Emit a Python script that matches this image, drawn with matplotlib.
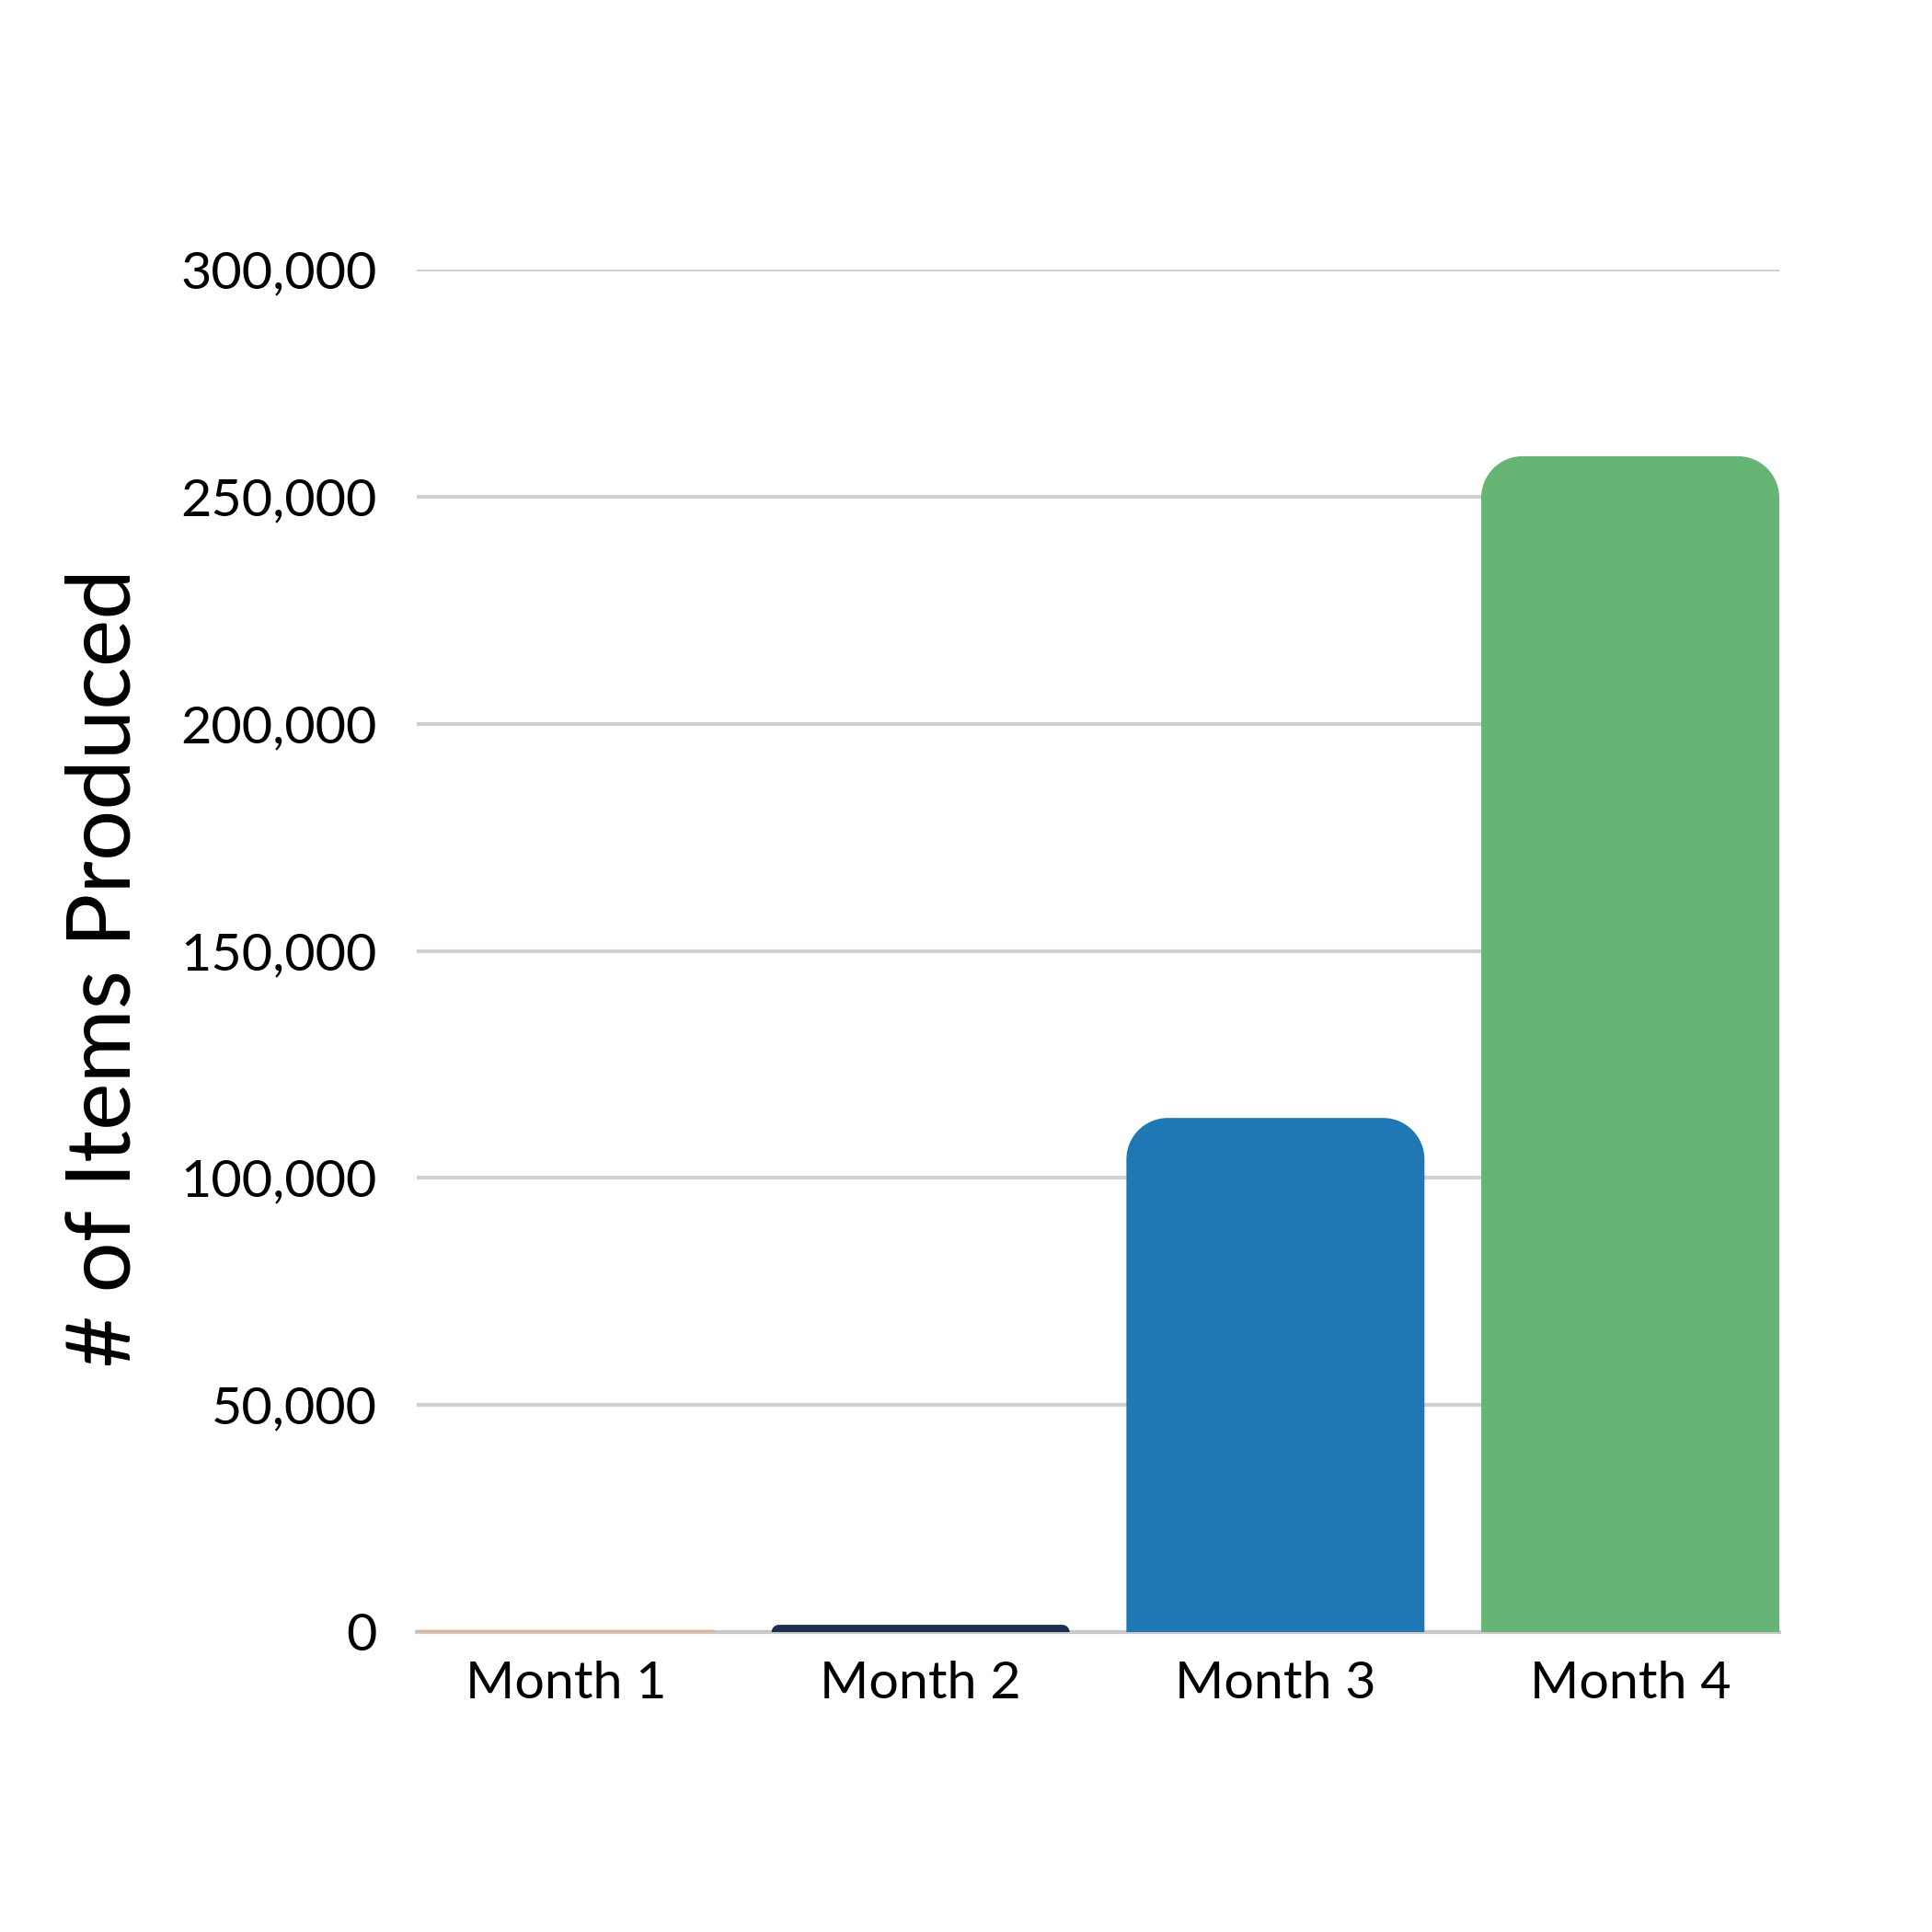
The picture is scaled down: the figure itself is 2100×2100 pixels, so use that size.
import matplotlib.pyplot as plt
from matplotlib.patches import PathPatch
from matplotlib.path import Path
from matplotlib.ticker import FuncFormatter

plt.rcParams['font.family'] = ['Lato', 'DejaVu Sans']

months = ['Month 1', 'Month 2', 'Month 3', 'Month 4']
items = [300, 1600, 113200, 258900]
colors = ['#e9ad8c', '#1b3050', '#1f77b4', '#66b574']

W = 2100
fig = plt.figure(figsize=(7, 7), dpi=300)
ax = fig.add_axes([453 / W, 1 - 1774 / W, 1481 / W, 1481 / W])

bars = ax.bar(months, items, width=0.84, color=colors, zorder=2)
ax.set_xlim(-0.42, 3.42)
ax.set_ylim(0, 300000)


def rounded_top(x, w, h, rx, ry):
    # bar outline with round top corners (quarter ellipses in data units)
    if h < ry:
        rx = rx * h / ry
        ry = h
    k = 0.5523
    verts = [(x, 0), (x, h - ry),
             (x, h - ry + k * ry), (x + rx - k * rx, h), (x + rx, h),
             (x + w - rx, h),
             (x + w - rx + k * rx, h), (x + w, h - ry + k * ry), (x + w, h - ry),
             (x + w, 0), (x, 0)]
    codes = [Path.MOVETO, Path.LINETO,
             Path.CURVE4, Path.CURVE4, Path.CURVE4,
             Path.LINETO,
             Path.CURVE4, Path.CURVE4, Path.CURVE4,
             Path.LINETO, Path.CLOSEPOLY]
    return Path(verts, codes)


# corner radius ~45 px on screen
rx = 45 / (1481 / 3.84)
ry = 45 / 1481 * 300000
for b, c in zip(bars, colors):
    b.set_visible(False)
    ax.add_patch(PathPatch(rounded_top(b.get_x(), b.get_width(), b.get_height(), rx, ry),
                           fc=c, ec=c if b.get_height() < 1000 else 'none',
                           lw=0.4, zorder=3))

ax.set_yticks(range(0, 300001, 50000))
ax.yaxis.set_major_formatter(FuncFormatter(lambda v, p: f'{int(v):,}'))
ax.grid(axis='y', color='#d0d0d0', linewidth=1.0, zorder=0)
ax.set_axisbelow(True)
for s in ['top', 'right', 'left']:
    ax.spines[s].set_visible(False)
ax.spines['bottom'].set_color('#c8c8c8')
ax.spines['bottom'].set_linewidth(1.0)
ax.spines['bottom'].set_zorder(2.5)
ax.tick_params(length=0, labelsize=13.8)
ax.tick_params(axis='y', pad=10.3)
ax.tick_params(axis='x', pad=7.5)
ax.set_ylabel('# of Items Produced', fontsize=23.4)
ax.yaxis.set_label_coords(-0.199, 0.4875)

fig.savefig('out.png', dpi=300)
